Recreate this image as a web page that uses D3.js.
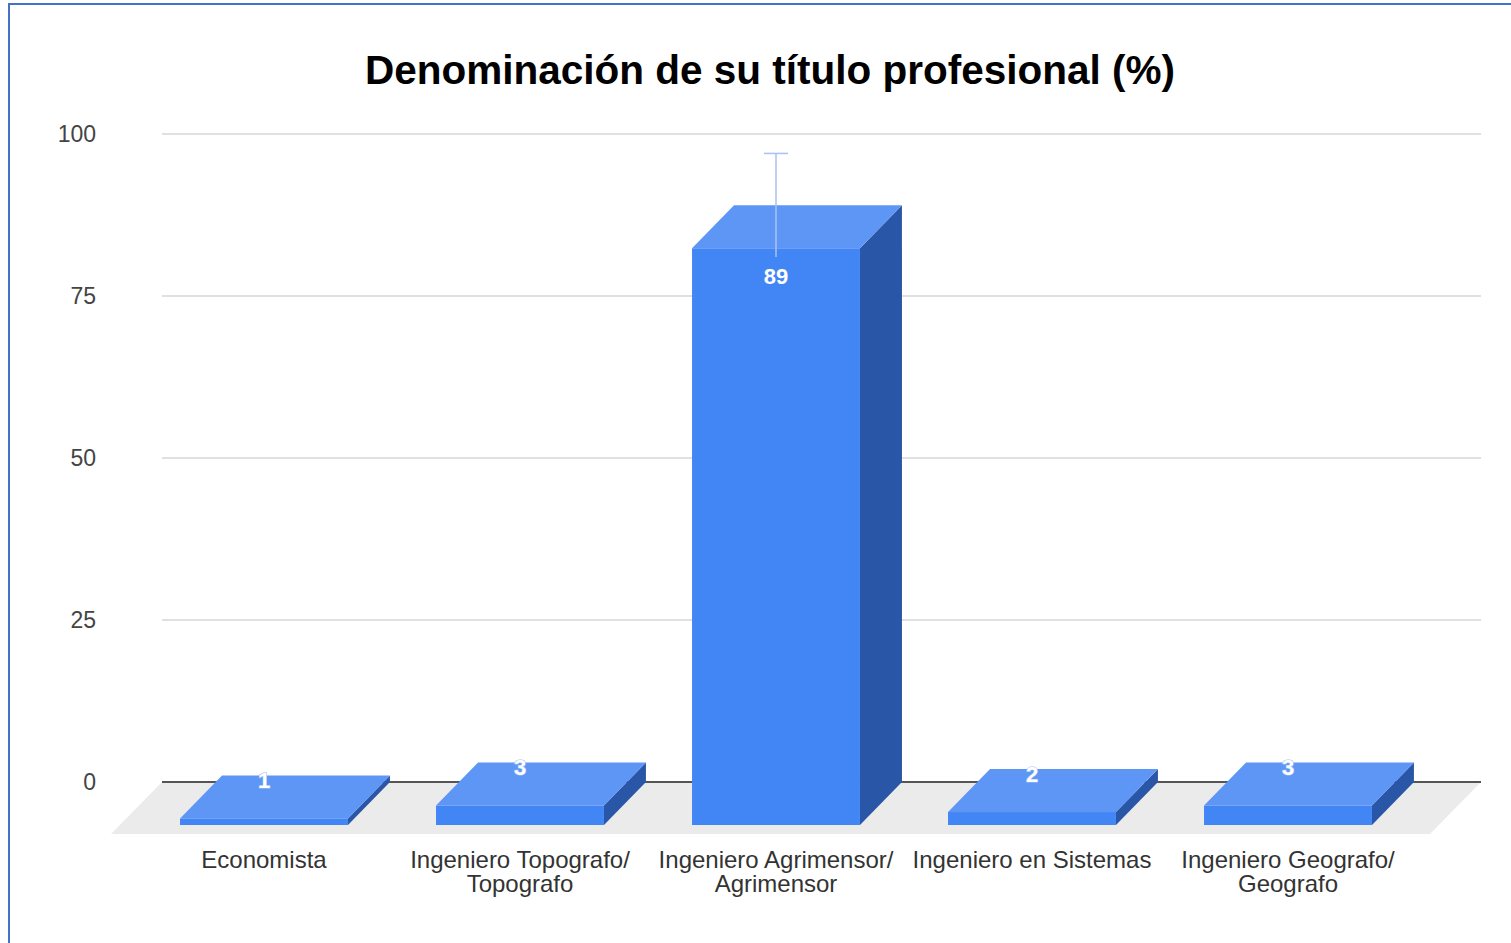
<!DOCTYPE html>
<html>
<head>
<meta charset="utf-8">
<script src="https://cdn.jsdelivr.net/npm/d3@7"></script>
<style>
  body { margin: 0; background: #fff; }
  text { font-family: "Liberation Sans", Arial, sans-serif; }
</style>
</head>
<body>
<script>
// data
var categories = ["Economista", "Ingeniero Topografo/ Topografo", "Ingeniero Agrimensor/ Agrimensor", "Ingeniero en Sistemas", "Ingeniero Geografo/ Geografo"];
var labelLines = [["Economista"], ["Ingeniero Topografo/", "Topografo"], ["Ingeniero Agrimensor/", "Agrimensor"], ["Ingeniero en Sistemas"], ["Ingeniero Geografo/", "Geografo"]];
var values = [1, 3, 89, 2, 3];
var errorMargin = [0, 0, 8, 0, 0];
var yTicks = [0, 25, 50, 75, 100];
var title = "Denominación de su título profesional (%)";

var width = 1511,
    height = 943,
    depthX = 42,   // bar depth offset
    depthY = 43,
    floorDX = 51,
    floorDY = 52,
    gridLeft = 162,
    gridRight = 1481;

var svg = d3.select("body").append("svg")
    .attr("width", width)
    .attr("height", height);

// frame
svg.append("rect")
    .attr("x", 9).attr("y", 4)
    .attr("width", width + 20).attr("height", height + 20)
    .attr("fill", "none")
    .attr("stroke", "#4472c4")
    .attr("stroke-width", 2);

var y = d3.scaleLinear().domain([0, 100]).range([782, 134]);
var x = d3.scaleBand().domain(categories)
    .range([178, 1458])
    .paddingInner(0.344)
    .paddingOuter(0.172);

// title
svg.append("text")
    .attr("x", 770).attr("y", 84)
    .attr("text-anchor", "middle")
    .attr("font-size", "40.5px")
    .attr("font-weight", "bold")
    .attr("fill", "#000")
    .text(title);

// gridlines + tick labels
svg.selectAll(".grid")
    .data(yTicks.filter(function (d) { return d > 0; }))
    .enter().append("line")
    .attr("class", "grid")
    .attr("x1", gridLeft).attr("x2", gridRight)
    .attr("y1", function (d) { return y(d); })
    .attr("y2", function (d) { return y(d); })
    .attr("stroke", "#e0e0e0")
    .attr("stroke-width", 2);

svg.selectAll(".tick")
    .data(yTicks)
    .enter().append("text")
    .attr("class", "tick")
    .attr("x", 96)
    .attr("y", function (d) { return y(d); })
    .attr("dy", "0.36em")
    .attr("text-anchor", "end")
    .attr("font-size", "23px")
    .attr("fill", "#444")
    .text(function (d) { return d; });

// floor
var y0 = y(0);
svg.append("path")
    .attr("d", "M" + gridLeft + "," + y0 + "L" + gridRight + "," + y0 +
        "L" + (gridRight - floorDX) + "," + (y0 + floorDY) +
        "L" + (gridLeft - floorDX) + "," + (y0 + floorDY) + "Z")
    .attr("fill", "#ebebeb");

svg.append("line")
    .attr("x1", gridLeft).attr("x2", gridRight)
    .attr("y1", y0).attr("y2", y0)
    .attr("stroke", "#555")
    .attr("stroke-width", 2);

// bars
var w = x.bandwidth();
var bars = svg.selectAll(".bar")
    .data(values)
    .enter().append("g")
    .attr("class", "bar");

// side face
bars.append("path")
    .attr("d", function (d, i) {
        var bx = x(categories[i]) + w, t = y(d);
        return "M" + (bx - depthX) + "," + (t + depthY) + "L" + bx + "," + t +
            "L" + bx + "," + y0 + "L" + (bx - depthX) + "," + (y0 + depthY) + "Z";
    })
    .attr("fill", "#2a56a8");

// top face
bars.append("path")
    .attr("d", function (d, i) {
        var bx = x(categories[i]), t = y(d);
        return "M" + (bx - depthX) + "," + (t + depthY) + "L" + (bx - depthX + w) + "," + (t + depthY) +
            "L" + (bx + w) + "," + t + "L" + bx + "," + t + "Z";
    })
    .attr("fill", "#5e96f5");

// front face
bars.append("rect")
    .attr("x", function (d, i) { return x(categories[i]) - depthX; })
    .attr("y", function (d) { return y(d) + depthY; })
    .attr("width", w)
    .attr("height", function (d) { return y0 - y(d); })
    .attr("fill", "#4285f4");

// error bar
var errG = svg.selectAll(".err")
    .data(values.map(function (v, i) { return { v: v, e: errorMargin[i], c: categories[i] }; })
        .filter(function (d) { return d.e > 0; }))
    .enter().append("g")
    .attr("class", "err")
    .attr("stroke", "#a9c2f2")
    .attr("stroke-width", 1.5);
errG.append("line")
    .attr("x1", function (d) { return x(d.c) - depthX + w / 2; })
    .attr("x2", function (d) { return x(d.c) - depthX + w / 2; })
    .attr("y1", function (d) { return y(d.v + d.e); })
    .attr("y2", function (d) { return y(d.v - d.e); });
errG.append("line")
    .attr("x1", function (d) { return x(d.c) - depthX + w / 2 - 12; })
    .attr("x2", function (d) { return x(d.c) - depthX + w / 2 + 12; })
    .attr("y1", function (d) { return y(d.v + d.e); })
    .attr("y2", function (d) { return y(d.v + d.e); });

// value labels
svg.selectAll(".vlabel")
    .data(values)
    .enter().append("text")
    .attr("class", "vlabel")
    .attr("x", function (d, i) { return x(categories[i]) - depthX + w / 2; })
    .attr("y", function (d) {
        var frontH = y0 - y(d);
        return frontH > 40 ? y(d) + depthY + 28 : y(d) + 5;
    })
    .attr("dy", "0.36em")
    .attr("text-anchor", "middle")
    .attr("font-size", "22px")
    .attr("font-weight", "bold")
    .attr("fill", "#fff")
    .attr("stroke", function (d) { return (y0 - y(d)) > 40 ? "none" : "#9dbbf3"; })
    .attr("stroke-width", 1.2)
    .attr("paint-order", "stroke")
    .text(function (d) { return d; });

// category labels
var cl = svg.selectAll(".clabel")
    .data(labelLines)
    .enter().append("text")
    .attr("class", "clabel")
    .attr("text-anchor", "middle")
    .attr("font-size", "24px")
    .attr("fill", "#333")
    .attr("transform", function (d, i) {
        return "translate(" + (x(categories[i]) - depthX + w / 2) + ",868)";
    });
cl.selectAll("tspan")
    .data(function (d) { return d; })
    .enter().append("tspan")
    .attr("x", 0)
    .attr("y", function (d, i) { return i * 24; })
    .text(function (d) { return d; });
</script>
</body>
</html>
